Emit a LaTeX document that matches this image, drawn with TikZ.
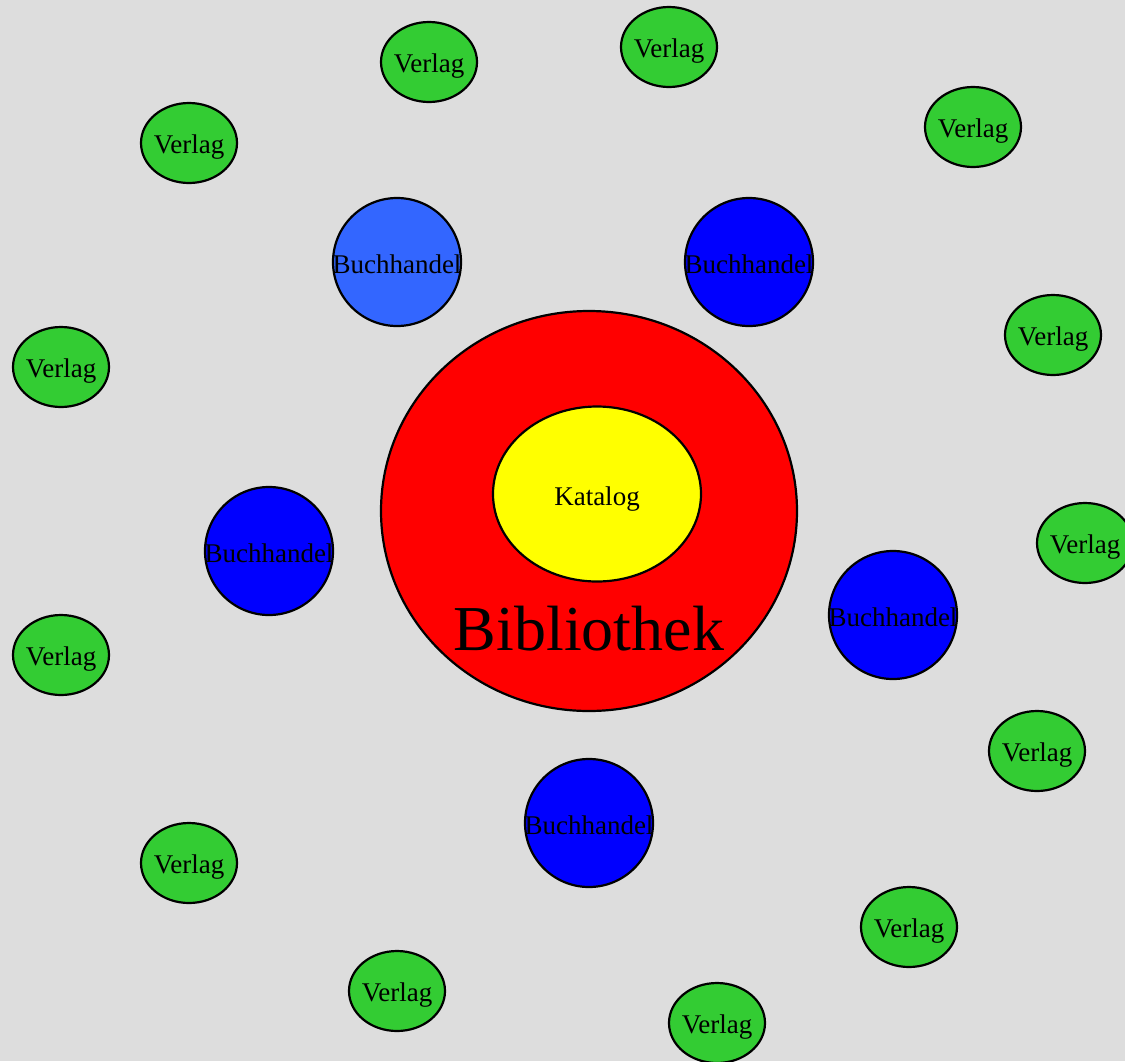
\documentclass[tikz,border=0pt]{standalone}
\usepackage{fontspec}
\setmainfont{Liberation Serif}
\usetikzlibrary{shapes.geometric}
\definecolor{bg}{HTML}{DDDDDD}
\definecolor{verlaggreen}{HTML}{33CC33}
\definecolor{lightblue}{HTML}{3366FF}
\definecolor{katyellow}{HTML}{FFFF00}
\definecolor{bibred}{HTML}{FF0000}
\definecolor{handelblue}{HTML}{0000FF}
\tikzset{
  shp/.style={draw=black, line width=2.2pt, inner sep=0pt, outer sep=0pt},
  verlag/.style={shp, ellipse, fill=verlaggreen, minimum width=96pt, minimum height=80pt},
  handel/.style={shp, circle, fill=handelblue, minimum size=128pt},
  lbl/.style={anchor=base, inner sep=0pt, font=\fontsize{27}{32}\selectfont},
}
\begin{document}
\begin{tikzpicture}[x=1pt,y=-1pt]
\fill[bg] (0,0) rectangle (1125,1061);
\useasboundingbox (0,0) rectangle (1125,1061);
% Library
\node[shp, ellipse, fill=bibred, minimum width=416pt, minimum height=400pt] (bib) at (589,511) {};
\node[shp, ellipse, fill=katyellow, minimum width=208pt, minimum height=175pt] (kat) at (597,494) {};
\node[lbl] (katl) at (597,505) {Katalog};
\node[anchor=base, inner sep=0pt, font=\fontsize{64}{70}\selectfont] (bibl) at (589,650) {Bibliothek};
% Buchhandel
\foreach \n/\x/\y/\c in {h1/397/262/lightblue, h2/749/262/handelblue, h3/269/551/handelblue, h4/893/615/handelblue, h5/589/823/handelblue}{
  \node[handel, fill=\c] (\n) at (\x,\y) {};
  \node[lbl] (\n l) at (\x,\y+11) {Buchhandel};
}
% Verlage
\foreach \n/\x/\y in {v1/429/62, v2/669/47, v3/189/143, v4/973/127, v5/61/367, v6/1053/335, v7/1085/543, v8/61/655, v9/1037/751, v10/189/863, v11/909/927, v12/397/991, v13/717/1023}{
  \node[verlag] (\n) at (\x,\y) {};
  \node[lbl] (\n l) at (\x,\y+10) {Verlag};
}
\end{tikzpicture}
\end{document}
